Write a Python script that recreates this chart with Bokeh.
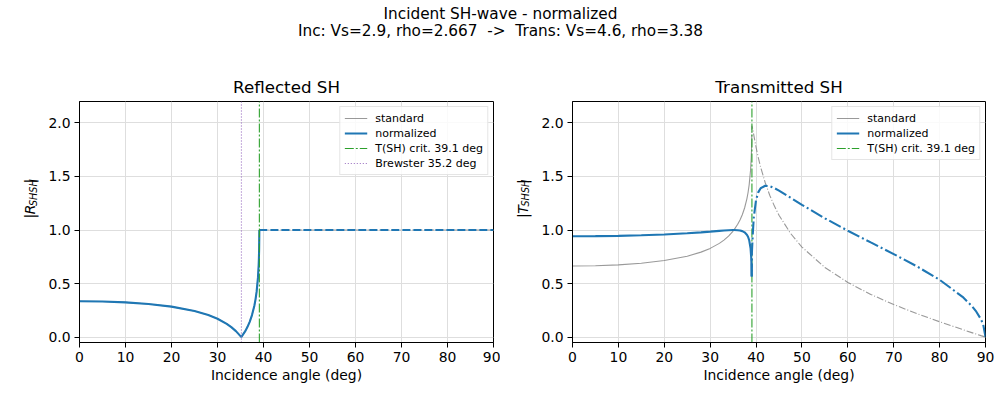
import math
from bokeh.plotting import figure
from bokeh.layouts import column, row
from bokeh.models import (Range1d, FixedTicker, PrintfTickFormatter, Legend,
                          LegendItem, Label)
from bokeh.embed import file_html
from bokeh.resources import INLINE

# ---------------- data ----------------
vs_inc, rho_inc = 2.9, 2.667
vs_trans, rho_trans = 4.6, 3.38
crit_angle = 39.1
brewster_angle = 35.2

# pre-critical incidence angles (deg)
angle_pre = [0, 5, 10, 15, 20, 25, 28, 30, 32, 33, 34, 35, 35.2, 36, 36.5, 37,
             37.5, 38, 38.25, 38.5, 38.8, 38.95, 39.0, 39.05]
r_pre = [0.3356, 0.3330, 0.3249, 0.3098, 0.2850, 0.2441, 0.2062, 0.1715, 0.1244,
         0.0939, 0.0565, 0.0092, 0.0019, 0.0535, 0.0937, 0.1430, 0.2057, 0.2911,
         0.3483, 0.4225, 0.5577, 0.6739, 0.7332, 0.8242]
t_std_pre = [0.6644, 0.6670, 0.6751, 0.6902, 0.7150, 0.7559, 0.7938, 0.8286,
             0.8756, 0.9061, 0.9435, 0.9908, 1.0019, 1.0535, 1.0937, 1.1430,
             1.2057, 1.2911, 1.3483, 1.4225, 1.5577, 1.6739, 1.7332, 1.8242]
t_norm_pre = [0.9420, 0.9429, 0.9458, 0.9508, 0.9585, 0.9698, 0.9785, 0.9852,
              0.9922, 0.9956, 0.9984, 1.0000, 1.0000, 0.9986, 0.9956, 0.9897,
              0.9786, 0.9567, 0.9374, 0.9064, 0.8301, 0.7388, 0.6800, 0.5663]

# post-critical incidence angles (deg)
angle_post = [39.1, 39.3, 39.5, 40, 40.5, 41, 42, 43, 44, 45, 47.5, 50, 55, 60,
              65, 70, 75, 80, 85, 87, 88, 89, 89.5, 90]
r_post = [1.0, 1.0, 1.0, 1.0, 1.0, 1.0, 1.0, 1.0, 1.0, 1.0, 1.0, 1.0, 1.0, 1.0,
          1.0, 1.0, 1.0, 1.0, 1.0, 1.0, 1.0, 1.0, 1.0, 1.0]
t_std_post = [1.9741, 1.9396, 1.8880, 1.7729, 1.6737, 1.5869, 1.4412, 1.3227,
              1.2235, 1.1386, 0.9695, 0.8406, 0.6504, 0.5107, 0.3989, 0.3043,
              0.2205, 0.1436, 0.0708, 0.0424, 0.0282, 0.0141, 0.0071, 0.0]
t_norm_post = [0.7961, 0.9725, 1.1161, 1.2810, 1.3537, 1.3899, 1.4137, 1.4086,
               1.3913, 1.3683, 1.3023, 1.2351, 1.1091, 0.9937, 0.8842, 0.7755,
               0.6620, 0.5352, 0.3763, 0.2911, 0.2376, 0.1680, 0.1188, 0.0]

x_ticks = [0, 10, 20, 30, 40, 50, 60, 70, 80, 90]
y_ticks = [0.0, 0.5, 1.0, 1.5, 2.0]

# ---------------- styling / layout ----------------
FONT = "DejaVu Sans"
BLUE = "#1f77b4"
GRAY = "#808080"
GREEN = "#2ca02c"
PURPLE = "#9467bd"
X_MIN, X_MAX = 0, 90
Y_MIN, Y_MAX = -0.05, 2.2
TOP_H = 100           # height of the strip holding the titles
PANEL_H = 400 - TOP_H
YL1_W, P1_W = 40, 460
YL2_W, P2_W = 36, 464


def make_panel(width, left, right):
    p = figure(width=width, height=PANEL_H, x_range=Range1d(X_MIN, X_MAX),
               y_range=Range1d(Y_MIN, Y_MAX), output_backend="svg",
               toolbar_location=None, min_border_left=left,
               min_border_right=right, min_border_top=101 - TOP_H,
               min_border_bottom=58)
    p.outline_line_color = "black"
    p.outline_line_alpha = 1.0
    p.outline_line_width = 1
    p.background_fill_color = "white"
    p.border_fill_color = "white"
    p.xaxis.ticker = FixedTicker(ticks=x_ticks)
    p.yaxis.ticker = FixedTicker(ticks=y_ticks)
    p.yaxis.formatter = PrintfTickFormatter(format="%.1f")
    for ax in (p.xaxis[0], p.yaxis[0]):
        ax.axis_line_color = "black"
        ax.major_tick_line_color = "black"
        ax.major_tick_out = 5
        ax.major_tick_in = 0
        ax.minor_tick_out = 0
        ax.minor_tick_in = 0
        ax.major_label_text_font = FONT
        ax.major_label_text_font_size = "13.9px"
        ax.major_label_text_color = "black"
        ax.major_label_standoff = 4
        ax.axis_label_text_font = FONT
        ax.axis_label_text_font_size = "13.9px"
        ax.axis_label_text_font_style = "normal"
        ax.axis_label_text_color = "black"
    p.xaxis.axis_label = "Incidence angle (deg)"
    p.xaxis.axis_label_standoff = 2
    p.xgrid.ticker = FixedTicker(ticks=x_ticks)
    p.ygrid.ticker = FixedTicker(ticks=y_ticks)
    for g in (p.xgrid[0], p.ygrid[0]):
        g.grid_line_color = "#dedede"
        g.grid_line_width = 1
    return p


def make_strip(width, height):
    s = figure(width=width, height=height, x_range=Range1d(0, width),
               y_range=Range1d(height, 0), output_backend="svg",
               toolbar_location=None, min_border=0, x_axis_type=None,
               y_axis_type=None)
    s.outline_line_color = None
    s.background_fill_color = "white"
    s.border_fill_color = "white"
    return s


def add_text(s, x, y, text, size, align="center", angle=0.0,
             baseline="alphabetic", style="normal"):
    s.add_layout(Label(x=x, y=y, text=text, text_align=align,
                       text_baseline=baseline, angle=angle, text_font=FONT,
                       text_font_size=size, text_font_style=style,
                       text_color="black"))


def add_ylabel(s, letter, letter_w, xcenter, ycenter):
    pieces = [("|", "13.9px", "normal", 0.0, 5.2),
              (letter, "13.9px", "italic", 0.0, letter_w + 0.5),
              ("SHSH", "9.7px", "italic", 3.0, 28.0),
              ("|", "13.9px", "normal", 0.0, 4.7)]
    total = sum(pc[4] for pc in pieces)
    ypos = ycenter + total / 2.0
    for txt, size, style, dx, w in pieces:
        add_text(s, xcenter + dx, ypos, txt, size, align="left",
                 angle=math.pi / 2, baseline="middle", style=style)
        ypos -= w


def add_legend(p, items):
    leg = Legend(items=items, location="top_right")
    leg.label_text_font = FONT
    leg.label_text_font_size = "11px"
    leg.label_text_color = "black"
    leg.glyph_width = 23
    leg.glyph_height = 14
    leg.label_height = 14
    leg.label_standoff = 8
    leg.padding = 4
    leg.spacing = 1
    leg.margin = 5
    leg.border_line_color = "#cccccc"
    leg.border_line_width = 1
    leg.background_fill_alpha = 0.85
    p.add_layout(leg)


# ---------------- Reflected SH ----------------
p1 = make_panel(P1_W, 79 - YL1_W, 7)
g1 = p1.line(angle_pre + angle_post[:1], r_pre + r_post[:1], line_color=GRAY,
             line_width=1.1, line_alpha=0.8)
p1.line(angle_post, r_post, line_color=GRAY, line_width=1.1, line_alpha=0.8,
        line_dash="7 2 1 2")
b1 = p1.line(angle_pre + angle_post[:1], r_pre + r_post[:1], line_color=BLUE,
             line_width=2.1)
p1.line(angle_post, r_post, line_color=BLUE, line_width=2.1, line_dash="8 3")
c1 = p1.line([crit_angle, crit_angle], [Y_MIN, Y_MAX], line_color=GREEN,
             line_width=1.1, line_dash="9 2 2 2")
br1 = p1.line([brewster_angle, brewster_angle], [Y_MIN, Y_MAX],
              line_color=PURPLE, line_width=1.1, line_dash="1 2")
add_legend(p1, [LegendItem(label="standard", renderers=[g1]),
                LegendItem(label="normalized", renderers=[b1]),
                LegendItem(label=f"T(SH) crit. {crit_angle} deg", renderers=[c1]),
                LegendItem(label=f"Brewster {brewster_angle} deg", renderers=[br1])])

# ---------------- Transmitted SH ----------------
p2 = make_panel(P2_W, 572 - (YL1_W + P1_W + YL2_W), 15)
g2 = p2.line(angle_pre, t_std_pre, line_color=GRAY, line_width=1.1,
             line_alpha=0.8)
p2.line(angle_pre[-1:] + angle_post, t_std_pre[-1:] + t_std_post,
        line_color=GRAY, line_width=1.1, line_alpha=0.8, line_dash="7 2 1 2")
c2 = p2.line([crit_angle, crit_angle], [Y_MIN, Y_MAX], line_color=GREEN,
             line_width=1.1, line_dash="9 2 2 2")
b2 = p2.line(angle_pre, t_norm_pre, line_color=BLUE, line_width=2.1)
p2.line(angle_pre[-1:] + angle_post, t_norm_pre[-1:] + t_norm_post,
        line_color=BLUE, line_width=2.1, line_dash="13 3 2 3")
add_legend(p2, [LegendItem(label="standard", renderers=[g2]),
                LegendItem(label="normalized", renderers=[b2]),
                LegendItem(label=f"T(SH) crit. {crit_angle} deg", renderers=[c2])])

# ---------------- y-axis label strips ----------------
yl1 = make_strip(YL1_W, PANEL_H)
add_ylabel(yl1, "R", 9.65, 29.5, 221.5 - TOP_H)
yl2 = make_strip(YL2_W, PANEL_H)
add_ylabel(yl2, "T", 8.49, 522.0 - (YL1_W + P1_W), 221.5 - TOP_H)

# ---------------- titles strip ----------------
top = make_strip(1000, TOP_H)
add_text(top, 500, 13.8, "Incident SH-wave - normalized", "15.3px")
add_text(top, 500, 30.4,
         f"Inc: Vs={vs_inc}, rho={rho_inc}\u00a0 ->\u00a0 Trans: Vs={vs_trans}, rho={rho_trans}",
         "15.3px")
add_text(top, (79 + 493) / 2.0, 86, "Reflected SH", "16.7px")
add_text(top, (572 + 985) / 2.0, 86, "Transmitted SH", "16.7px")

layout = column(top, row(yl1, p1, yl2, p2))
open("out.html", "w").write(file_html(layout, INLINE))
